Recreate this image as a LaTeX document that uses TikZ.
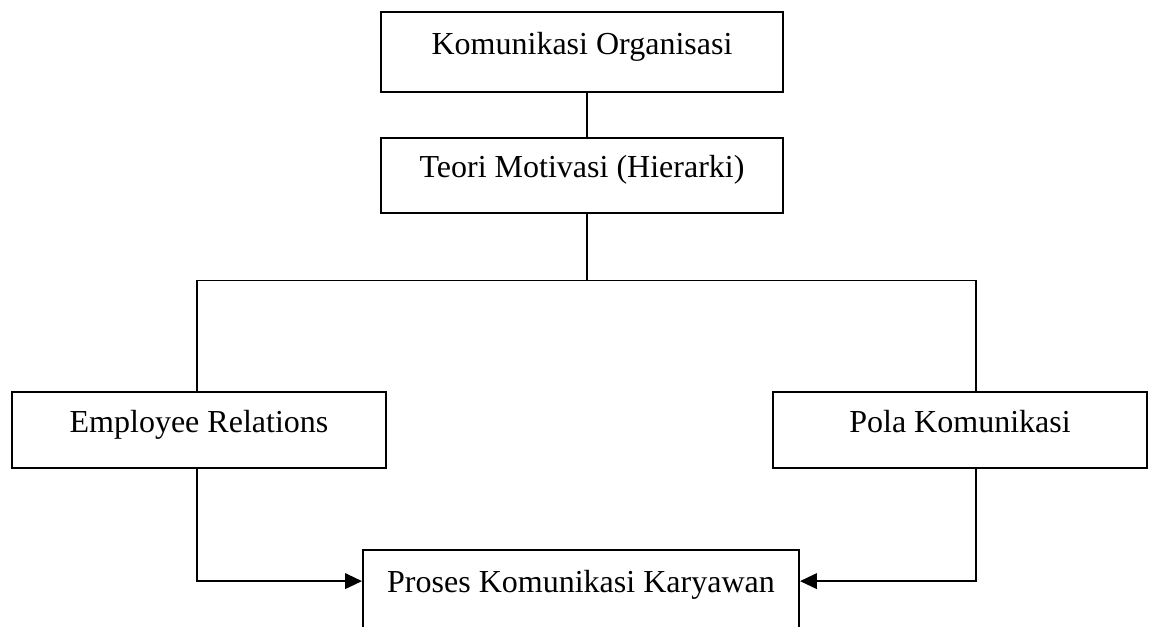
\documentclass[tikz,border=0pt]{standalone}
\usepackage{fontspec}
\setmainfont{Liberation Serif}
\usetikzlibrary{arrows.meta}

\begin{document}
\begin{tikzpicture}[x=0.0135cm, y=-0.0135cm,
        box/.style={draw, line width=0.7pt, text height=9pt, text depth=7.2pt,
                    font=\fontsize{12.3}{14}\selectfont},
        link/.style={line width=0.7pt},
        flow/.style={line width=0.7pt, -{Triangle[length=6.5pt, width=6pt]}}]
            \clip (0,0) rectangle (1152,627);

            % Nodes
            \node[box, minimum width=5.43cm, minimum height=1.08cm] (kom) at (582,52) {Komunikasi Organisasi};
            \node[box, minimum width=5.43cm, minimum height=1.01cm] (teori) at (582,175.5) {Teori Motivasi (Hierarki)};

            \node[box, minimum width=5.05cm, minimum height=1.03cm] (emp) at (199,430) {Employee Relations};
            \node[box, minimum width=5.05cm, minimum height=1.03cm] (pola) at (960,430) {Pola Komunikasi};

            \node[box, minimum width=5.89cm, minimum height=1.08cm] (proses) at (581,590) {Proses Komunikasi Karyawan};

            \coordinate (split) at ([xshift=0.07cm, yshift=-0.9cm]teori.south);

            % Lines
            \draw[link] ([xshift=0.07cm]kom.south) -- ([xshift=0.07cm]teori.north);
            \draw[link] ([xshift=0.07cm]teori.south) -- (split);
            \draw[link] ([xshift=-0.03cm]emp.north) |- (split);
            \draw[link] ([xshift=0.22cm]pola.north) |- (split);

            % Arrows
            \draw[flow] ([xshift=-0.03cm]emp.south) |- ([yshift=0.12cm]proses.west);
            \draw[flow] ([xshift=0.22cm]pola.south) |- ([yshift=0.12cm]proses.east);
        \end{tikzpicture}
\end{document}
